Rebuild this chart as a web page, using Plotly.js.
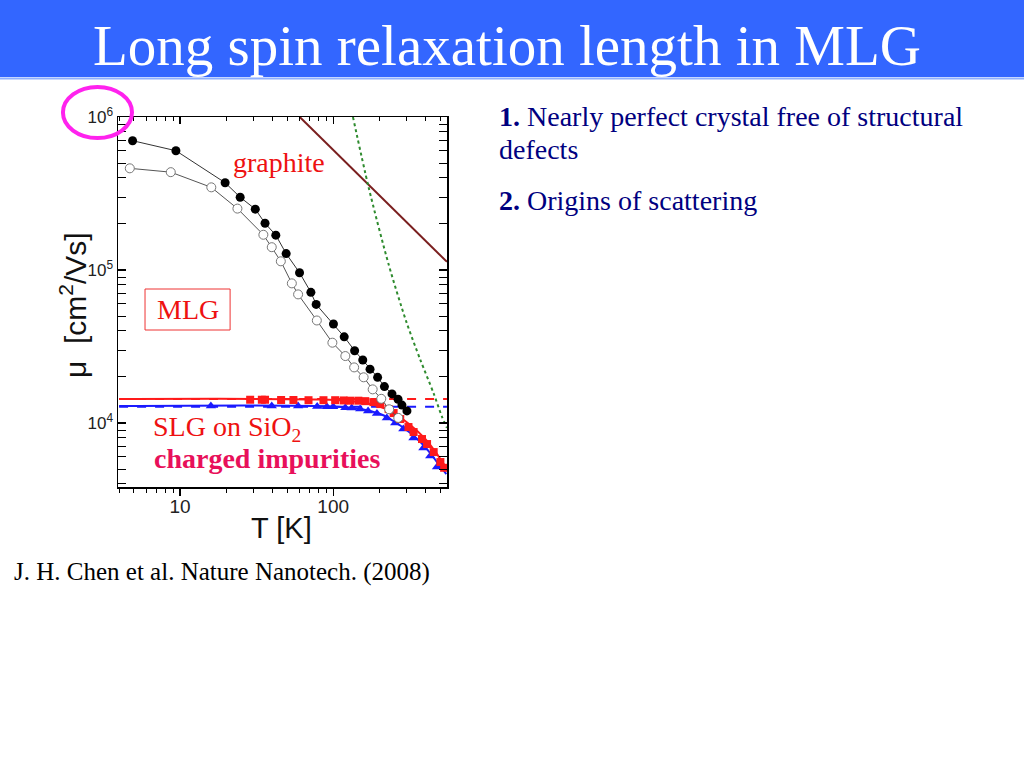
<!DOCTYPE html>
<html>
<head>
<meta charset="utf-8">
<script src="https://cdn.plot.ly/plotly-3.0.1.min.js"></script>
<style>
  html, body { margin: 0; padding: 0; background: #ffffff; }
  #chart { width: 1024px; height: 768px; }
</style>
</head>
<body>
<div id="chart"></div>
<script>
// ---- data ----
var mlgFilledT = [4.9, 9.4, 19.7, 24.7, 31.0, 35.9, 42.2, 49.3, 60.3, 71.5, 77.4, 100.4, 118, 138, 156, 174, 195, 216, 242, 265, 281, 303];
var mlgFilledMu = [700000, 602000, 372000, 299000, 250000, 202000, 169000, 128000, 96000, 71500, 59600, 44400, 36600, 29700, 25800, 22500, 19900, 17300, 15500, 14300, 13100, 12000];

var mlgOpenT = [4.7, 8.7, 16.0, 23.7, 35.0, 39.7, 45.5, 53.7, 59.0, 78.2, 98.8, 120, 137, 158, 181, 206, 232, 266];
var mlgOpenMu = [462000, 436000, 347000, 252000, 170000, 141000, 114000, 81800, 69300, 46800, 33500, 27400, 23100, 19900, 16600, 14400, 12300, 10800];

var slgRedT = [28.7, 34.2, 35.9, 45.7, 55.0, 69.0, 86.4, 103, 117, 129, 146, 162, 183, 203, 230, 248, 274, 310, 335, 380, 410, 453, 501, 530];
var slgRedMu = [14200, 14200, 14200, 14150, 14150, 14100, 14100, 14100, 14050, 14000, 14000, 13900, 13700, 13300, 12340, 11620, 10620, 9415, 8730, 7860, 7290, 6460, 5560, 5100];

var slgBlueT = [15.9, 39.7, 59, 78.6, 91, 100, 120, 132, 150, 169, 193, 224, 254, 287, 334, 388, 430, 476];
var slgBlueMu = [12900, 12900, 12900, 12820, 12800, 12780, 12600, 12530, 12350, 11970, 11540, 10780, 10000, 9140, 7980, 6870, 6090, 5160];

var fitRedT = [4, 82.2, 129, 174.6, 236, 319, 399, 486, 548];
var fitRedMu = [14350, 14250, 13920, 13300, 11980, 9700, 7860, 6080, 5080];

var fitBlueT = [4, 100, 150, 203, 236, 274, 319, 371, 430, 486, 548];
var fitBlueMu = [12910, 12820, 12350, 11450, 10620, 9630, 8600, 7510, 6370, 5400, 4640];

var limitT = [4, 553];
var limitRedMu = [14350, 14350];
var limitBlueMu = [12780, 12780];

var graphiteT = [60.5, 553];
var graphiteMu = [1000000, 113000];

var phononT = [134.6, 170, 230, 300, 371, 453, 513, 553];
var phononMu = [1000000, 350000, 109000, 46000, 25800, 15600, 11000, 9300];

var xTickVals = [10, 100];
var xTickText = ['10', '100'];
var yTickVals = [10000, 100000, 1000000];
var yTickText = ['10<sup>4</sup>', '10<sup>5</sup>', '10<sup>6</sup>'];

// ---- layout helpers (pixel -> paper) ----
var L = 118, R = 446.7, T0 = 117, B = 487;
function px(x) { return (x - L) / (R - L); }
function py(y) { return (B - y) / (B - T0); }

var traces = [
  { x: graphiteT, y: graphiteMu, mode: 'lines', line: { color: '#7a1f1f', width: 2 }, hoverinfo: 'skip' },
  { x: phononT, y: phononMu, mode: 'lines', line: { color: '#2e8b2e', width: 2, dash: 'dot', shape: 'spline', smoothing: 0.8 }, hoverinfo: 'skip' },
  { x: limitT, y: limitRedMu, mode: 'lines', line: { color: '#ff1a1a', width: 2, dash: 'dash' }, hoverinfo: 'skip' },
  { x: limitT, y: limitBlueMu, mode: 'lines', line: { color: '#1a1aff', width: 2, dash: 'dash' }, hoverinfo: 'skip' },
  { x: fitRedT, y: fitRedMu, mode: 'lines', line: { color: '#ff1a1a', width: 2, shape: 'spline' }, hoverinfo: 'skip' },
  { x: fitBlueT, y: fitBlueMu, mode: 'lines', line: { color: '#1a1aff', width: 2, shape: 'spline' }, hoverinfo: 'skip' },
  { x: slgBlueT, y: slgBlueMu, mode: 'markers', marker: { symbol: 'triangle-up', size: 9, color: '#1a1aff' }, hoverinfo: 'skip' },
  { x: slgRedT, y: slgRedMu, mode: 'markers', marker: { symbol: 'square', size: 8, color: '#ff1a1a' }, hoverinfo: 'skip' },
  { x: mlgOpenT, y: mlgOpenMu, mode: 'lines+markers', line: { color: '#555555', width: 1 },
    marker: { symbol: 'circle', size: 9, color: '#ffffff', line: { color: '#777777', width: 1 } }, hoverinfo: 'skip' },
  { x: mlgFilledT, y: mlgFilledMu, mode: 'lines+markers', line: { color: '#333333', width: 1 },
    marker: { symbol: 'circle', size: 9, color: '#000000' }, hoverinfo: 'skip' },
  { x: [mlgFilledT[0]], y: [mlgFilledMu[0]], xaxis: 'x2', yaxis: 'y', mode: 'none', hoverinfo: 'skip' }
];

var axFont = { family: 'Liberation Sans, Arial, sans-serif', size: 19, color: '#222222' };
var serif = 'Liberation Serif, Times New Roman, serif';

var layout = {
  width: 1024, height: 768,
  margin: { l: L, r: 1024 - R, t: T0, b: 768 - B, pad: 0 },
  paper_bgcolor: '#ffffff', plot_bgcolor: '#ffffff',
  showlegend: false,
  xaxis: {
    type: 'log', range: [0.595, 2.743], tickmode: 'array', tickvals: xTickVals, ticktext: xTickText,
    ticks: 'outside', ticklen: 7, tickwidth: 1.2, tickcolor: '#000', ticklabelstandoff: -5,
    minor: { ticks: 'outside', ticklen: 4, tickwidth: 1, tickcolor: '#000', dtick: 'D1', showgrid: false },
    showline: true, linecolor: '#000', linewidth: 1.5, mirror: true,
    showgrid: false, zeroline: false, tickfont: axFont
  },
  xaxis2: {
    type: 'log', range: [0.595, 2.743], overlaying: 'x', side: 'top', anchor: 'y',
    tickmode: 'array', tickvals: xTickVals, ticks: 'inside', ticklen: 7, tickwidth: 1.2, tickcolor: '#000',
    minor: { ticks: 'inside', ticklen: 4, tickwidth: 1, tickcolor: '#000', dtick: 'D1', showgrid: false },
    showticklabels: false, showline: false, showgrid: false, zeroline: false
  },
  yaxis: {
    type: 'log', range: [3.582, 6.0], tickmode: 'array', tickvals: yTickVals, ticktext: yTickText,
    ticks: 'inside', ticklen: 8, tickwidth: 1.2, tickcolor: '#000',
    minor: { ticks: 'inside', ticklen: 4, tickwidth: 1, tickcolor: '#000', dtick: 'D1', showgrid: false },
    showline: true, linecolor: '#000', linewidth: 1.5, mirror: 'allticks',
    showgrid: false, zeroline: false,
    tickfont: { family: 'Liberation Sans, Arial, sans-serif', size: 17, color: '#222222' }
  },
  shapes: [
    { type: 'rect', xref: 'paper', yref: 'paper', x0: px(0), x1: px(1024), y0: py(77), y1: py(0),
      fillcolor: '#3366ff', line: { width: 0 }, layer: 'below' },
    { type: 'line', xref: 'paper', yref: 'paper', x0: px(0), x1: px(1024), y0: py(78.5), y1: py(78.5),
      line: { color: '#8fb0ff', width: 2 } },
    { type: 'circle', xref: 'paper', yref: 'paper', x0: px(63), x1: px(132), y0: py(138), y1: py(87),
      line: { color: '#ff22ee', width: 4 } },
    { type: 'rect', xref: 'paper', yref: 'paper', x0: px(145), x1: px(230), y0: py(330), y1: py(289),
      line: { color: '#ee3333', width: 1 } }
  ],
  annotations: [
    { xref: 'paper', yref: 'paper', x: px(507), y: py(45), xanchor: 'center', yanchor: 'middle', showarrow: false,
      text: 'Long spin relaxation length in MLG', font: { family: serif, size: 57, color: '#ffffff' } },
    { xref: 'paper', yref: 'paper', x: px(497), y: py(116), xanchor: 'left', yanchor: 'middle', showarrow: false,
      text: '<b>1.</b> Nearly perfect crystal free of structural', font: { family: serif, size: 28, color: '#000080' } },
    { xref: 'paper', yref: 'paper', x: px(497), y: py(149), xanchor: 'left', yanchor: 'middle', showarrow: false,
      text: 'defects', font: { family: serif, size: 28, color: '#000080' } },
    { xref: 'paper', yref: 'paper', x: px(497), y: py(200), xanchor: 'left', yanchor: 'middle', showarrow: false,
      text: '<b>2.</b> Origins of scattering', font: { family: serif, size: 28, color: '#000080' } },
    { xref: 'paper', yref: 'paper', x: px(12), y: py(572), xanchor: 'left', yanchor: 'middle', showarrow: false,
      text: 'J. H. Chen et al. Nature Nanotech. (2008)', font: { family: serif, size: 25, color: '#000000' } },
    { xref: 'paper', yref: 'paper', x: px(231), y: py(163), xanchor: 'left', yanchor: 'middle', showarrow: false,
      text: 'graphite', font: { family: serif, size: 28, color: '#ee1111' } },
    { xref: 'paper', yref: 'paper', x: px(187.5), y: py(309), xanchor: 'center', yanchor: 'middle', showarrow: false,
      text: 'MLG', font: { family: serif, size: 28, color: '#ee1111' } },
    { xref: 'paper', yref: 'paper', x: px(151), y: py(428), xanchor: 'left', yanchor: 'middle', showarrow: false,
      text: 'SLG on SiO<sub>2</sub>', font: { family: serif, size: 28, color: '#ee1111' } },
    { xref: 'paper', yref: 'paper', x: px(152), y: py(458), xanchor: 'left', yanchor: 'middle', showarrow: false,
      text: '<b>charged impurities</b>', font: { family: serif, size: 28, color: '#e8105a' } },
    { xref: 'paper', yref: 'paper', x: px(281), y: py(528), xanchor: 'center', yanchor: 'middle', showarrow: false,
      text: 'T [K]', font: { family: 'Liberation Sans, Arial, sans-serif', size: 29, color: '#111111' } },
    { xref: 'paper', yref: 'paper', x: px(73), y: py(305), xanchor: 'center', yanchor: 'middle', showarrow: false,
      textangle: -90, text: 'μ  [cm<sup>2</sup>/Vs]', font: { family: 'Liberation Sans, Arial, sans-serif', size: 30, color: '#111111' } }
  ]
};

Plotly.newPlot('chart', traces, layout, { displayModeBar: false, staticPlot: true });
</script>
</body>
</html>
